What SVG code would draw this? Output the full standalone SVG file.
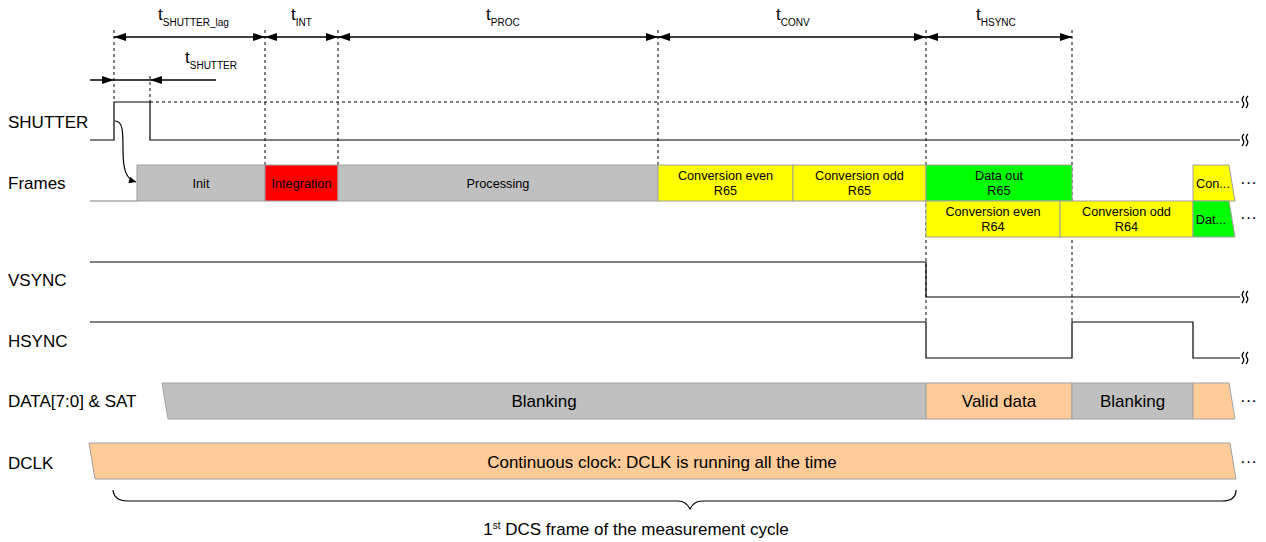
<svg xmlns="http://www.w3.org/2000/svg" width="1266" height="542" viewBox="0 0 1266 542">
<defs>
<marker id="ah" viewBox="0 0 12 8" refX="12" refY="4" markerWidth="12" markerHeight="8" markerUnits="userSpaceOnUse" orient="auto-start-reverse"><path d="M0,0 L12,4 L0,8 z" fill="#000"/></marker>
<marker id="ahs" viewBox="0 0 8 8" refX="8" refY="4" markerWidth="8" markerHeight="7" markerUnits="userSpaceOnUse" orient="auto"><path d="M0,0 L8,4 L0,8 z" fill="#000"/></marker>
<style>
text{font-family:"Liberation Sans",Arial,sans-serif;fill:#000}
.lbl{font-size:17px}
.bx{font-size:12.7px;text-anchor:middle}
.big{font-size:17px;text-anchor:middle}
.t{font-size:17px}
.sub{font-size:10px}
.dash{stroke:#000;stroke-width:1;stroke-dasharray:3,3;fill:none}
.sig{stroke:#000;stroke-width:1.2;fill:none}
.dim{stroke:#000;stroke-width:1.3}
.gray{fill:#c0c0c0;stroke:#a0a0a0;stroke-width:1}
.red{fill:#ff0000;stroke:#a0a0a0;stroke-width:1}
.yel{fill:#ffff00;stroke:#a0a0a0;stroke-width:1}
.grn{fill:#00ff00;stroke:#a0a0a0;stroke-width:1}
.org{fill:#ffcc99;stroke:#a0a0a0;stroke-width:1}
.sq{stroke:#000;stroke-width:1.3;fill:none}
</style>
</defs>

<g id="labels">
<text class="lbl" x="8" y="128">SHUTTER</text>
<text class="lbl" x="8" y="189">Frames</text>
<text class="lbl" x="8" y="286">VSYNC</text>
<text class="lbl" x="8" y="347">HSYNC</text>
<text class="lbl" x="8" y="407" font-size="16">DATA[7:0] &amp; SAT</text>
<text class="lbl" x="8" y="469">DCLK</text>
</g>

<g id="dimensions">
<line class="dim" x1="114" y1="37" x2="265" y2="37" marker-start="url(#ah)" marker-end="url(#ah)"/>
<line class="dim" x1="265" y1="37" x2="338" y2="37" marker-start="url(#ah)" marker-end="url(#ah)"/>
<line class="dim" x1="338" y1="37" x2="658" y2="37" marker-start="url(#ah)" marker-end="url(#ah)"/>
<line class="dim" x1="658" y1="37" x2="926" y2="37" marker-start="url(#ah)" marker-end="url(#ah)"/>
<line class="dim" x1="926" y1="37" x2="1072" y2="37" marker-start="url(#ah)" marker-end="url(#ah)"/>
<line class="dim" x1="90" y1="80" x2="216" y2="80"/>
<path d="M102,76 L114,80 L102,84 z" fill="#000"/>
<path d="M162,76 L150,80 L162,84 z" fill="#000"/>
<text class="t" x="158" y="20">t<tspan class="sub" dy="6">SHUTTER_lag</tspan></text>
<text class="t" x="291" y="20">t<tspan class="sub" dy="6">INT</tspan></text>
<text class="t" x="486" y="20">t<tspan class="sub" dy="6">PROC</tspan></text>
<text class="t" x="776" y="20">t<tspan class="sub" dy="6">CONV</tspan></text>
<text class="t" x="976" y="20">t<tspan class="sub" dy="6">HSYNC</tspan></text>
<text class="t" x="185" y="63">t<tspan class="sub" dy="6">SHUTTER</tspan></text>
</g>

<g id="gridlines">
<line class="dash" x1="114" y1="30" x2="114" y2="102"/>
<line class="dash" x1="150" y1="76" x2="150" y2="102"/>
<line class="dash" x1="265" y1="30" x2="265" y2="165"/>
<line class="dash" x1="338" y1="30" x2="338" y2="165"/>
<line class="dash" x1="658" y1="30" x2="658" y2="165"/>
<line class="dash" x1="926" y1="30" x2="926" y2="322"/>
<line class="dash" x1="1072" y1="30" x2="1072" y2="322"/>
<line class="dash" x1="150" y1="102" x2="1240" y2="102"/>
</g>

<g id="shutter">
<polyline class="sig" points="90,140 114,140 114,102 150,102 150,140 1240,140"/>
<path class="sq" d="M1242,108 q3,-4 1,-6 q-2,-3 1,-6 M1246,108 q3,-4 1,-6 q-2,-3 1,-6"/>
<path class="sq" d="M1242,146 q3,-4 1,-6 q-2,-3 1,-6 M1246,146 q3,-4 1,-6 q-2,-3 1,-6"/>
</g>

<g id="connectors">
<path class="sig" d="M115,121 C123,121 123,132 123,150 C123,170 126,179 136,182" marker-end="url(#ahs)"/>
</g>

<g id="frames">
<line x1="90" y1="201" x2="137" y2="201" stroke="#808080" stroke-width="1.2"/>
<g id="init"><rect class="gray" x="137" y="165" width="128" height="36"/><text class="bx" x="201" y="188">Init</text></g>
<g id="integration"><rect class="red" x="265" y="165" width="73" height="36"/><text class="bx" x="301.5" y="188">Integration</text></g>
<g id="processing"><rect class="gray" x="338" y="165" width="320" height="36"/><text class="bx" x="498" y="188">Processing</text></g>
<g id="conv-even-r65"><rect class="yel" x="658" y="165" width="135" height="36"/><text class="bx" x="725.5" y="180">Conversion even</text><text class="bx" x="725.5" y="195">R65</text></g>
<g id="conv-odd-r65"><rect class="yel" x="793" y="165" width="133" height="36"/><text class="bx" x="859.5" y="180">Conversion odd</text><text class="bx" x="859.5" y="195">R65</text></g>
<g id="data-out-r65"><rect class="grn" x="926" y="165" width="146" height="36"/><text class="bx" x="999" y="180">Data out</text><text class="bx" x="999" y="195">R65</text></g>
<g id="con-next"><path class="yel" d="M1193,165 L1229,165 L1235,201 L1193,201 z"/><text class="bx" x="1213" y="188">Con...</text></g>
<g id="conv-even-r64"><rect class="yel" x="926" y="201" width="134" height="36"/><text class="bx" x="993" y="216">Conversion even</text><text class="bx" x="993" y="231">R64</text></g>
<g id="conv-odd-r64"><rect class="yel" x="1060" y="201" width="133" height="36"/><text class="bx" x="1126.5" y="216">Conversion odd</text><text class="bx" x="1126.5" y="231">R64</text></g>
<g id="dat-next"><path class="grn" d="M1193,201 L1229,201 L1235,237 L1193,237 z"/><text class="bx" x="1211" y="224">Dat...</text></g>
<text class="lbl" x="1240" y="188">···</text>
<text class="lbl" x="1240" y="223">···</text>
</g>

<g id="vsync">
<polyline class="sig" points="90,262 926,262 926,297 1240,297"/>
<path class="sq" d="M1242,303 q3,-4 1,-6 q-2,-3 1,-6 M1246,303 q3,-4 1,-6 q-2,-3 1,-6"/>
</g>

<g id="hsync">
<polyline class="sig" points="90,322 926,322 926,358 1072,358 1072,322 1193,322 1193,358 1240,358"/>
<path class="sq" d="M1242,364 q3,-4 1,-6 q-2,-3 1,-6 M1246,364 q3,-4 1,-6 q-2,-3 1,-6"/>
</g>

<g id="data">
<g id="blanking1"><path class="gray" d="M162,383 L926,383 L926,419 L168,419 z"/><text class="big" x="544" y="407">Blanking</text></g>
<g id="valid-data"><rect class="org" x="926" y="383" width="146" height="36"/><text class="big" x="999" y="407">Valid data</text></g>
<g id="blanking2"><rect class="gray" x="1072" y="383" width="121" height="36"/><text class="big" x="1132.5" y="407">Blanking</text></g>
<g id="data-next"><path class="org" d="M1193,383 L1229,383 L1235,419 L1193,419 z"/></g>
<text class="lbl" x="1240" y="406">···</text>
</g>

<g id="dclk">
<path class="org" d="M89,443 L1230,443 L1236,479 L95,479 z"/>
<text class="big" x="662" y="468">Continuous clock: DCLK is running all the time</text>
<text class="lbl" x="1240" y="467">···</text>
</g>

<g id="brace">
<path class="sig" d="M113,490 Q114,501 128,501 L678,501 Q686,501 690,509 Q694,501 702,501 L1222,501 Q1236,501 1236,490"/>
<text class="big" x="636" y="535">1<tspan font-size="10" dy="-6">st</tspan><tspan dy="6"> DCS frame of the measurement cycle</tspan></text>
</g>
</svg>
